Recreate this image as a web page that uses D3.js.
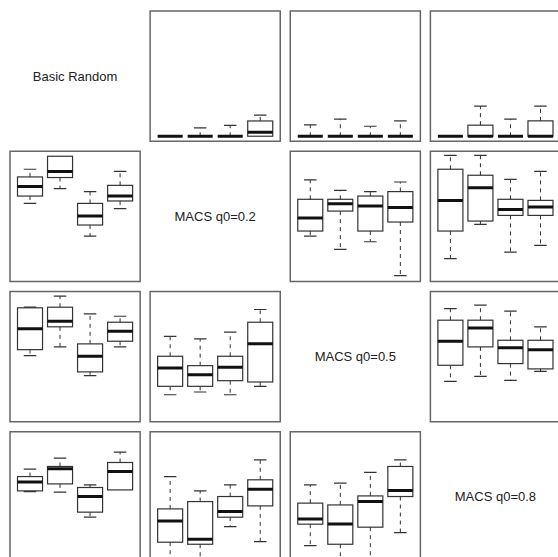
<!DOCTYPE html>
<html>
<head>
<meta charset="utf-8">
<script src="https://cdn.jsdelivr.net/npm/d3@7"></script>
<style>
  body { margin: 0; background: #fff; }
  svg { display: block; }
</style>
</head>
<body>
<div id="chart"></div>
<script>
// method names on the diagonal
const methods = ["Basic Random", "MACS q0=0.2", "MACS q0=0.5", "MACS q0=0.8"];
const groups = ["A", "B", "C", "D"];

// five number summaries [min, q1, median, q3, max], one per group, per (row, col) cell
const r0c1 = [[0, 0, 0, 0, 0], [0, 0, 0, 0, 7], [0, 0, 0, 0, 9], [0, 0, 3.3, 12.7, 17.5]];
const r0c2 = [[0, 0, 0, 0, 9.4], [0, 0, 0, 0, 14.2], [0, 0, 0, 0, 8.3], [0, 0, 0, 0, 12.8]];
const r0c3 = [[0, 0, 0, 0, 0], [0, 0, 0, 9.2, 25], [0, 0, 0, 0, 14.2], [0, 0, 0, 12.8, 25]];

const r1c0 = [[60.8, 66.9, 74.8, 82.8, 89.2], [73.1, 82.3, 87.3, 100, 100], [33.6, 42.8, 50.3, 60.8, 70.6], [56.4, 62.8, 67, 75.8, 87.5]];
const r1c2 = [[33.6, 37.8, 48.6, 64.2, 80.3], [22.5, 54.4, 60.6, 64.2, 71.7], [28.9, 37.8, 58.6, 66.9, 70.6], [0.8, 45.3, 57.3, 70.6, 78.6]];
const r1c3 = [[14.8, 37.8, 63.1, 89.2, 100.8], [43.3, 46.1, 73.9, 84.2, 100.8], [20.3, 50.8, 55.8, 64.2, 80.8], [25.8, 50.8, 57.8, 63.3, 87.5]];

const r2c0 = [[50.8, 55.8, 73.1, 90.6, 91.1], [58.1, 74.8, 79.4, 91.1, 100.3], [34.2, 37.3, 50.3, 60.6, 85.6], [58.1, 62.8, 71.1, 78.6, 83.6]];
const r2c1 = [[18.3, 25.3, 40.6, 50.3, 66.9], [20.6, 25.3, 35, 42.5, 64.8], [18.3, 30, 41.1, 50.3, 70.3], [25.3, 28.9, 60.8, 78.6, 89.2]];
const r2c3 = [[29.4, 42.8, 62.8, 80.3, 90], [33.6, 58.1, 73.9, 80.3, 92.8], [30.3, 44.2, 57.3, 63.6, 87.8], [37.8, 39.8, 55.8, 63.6, 74.8]];

const r3c0 = [[54.4, 55, 62.3, 66.9, 73.1], [53.9, 60.8, 73.3, 75.3, 82.3], [33.1, 37.3, 50.3, 57.8, 60], [55.8, 55.8, 71.1, 78.6, 87.3]];
const r3c1 = [[-2, 12.3, 30, 40, 66.9], [-3, 10.6, 14.8, 46.1, 55], [25.3, 33.1, 37.8, 50.3, 60], [12.8, 42.5, 56.4, 64.2, 80.8]];
const r3c2 = [[9.4, 27.3, 31.7, 44.8, 60], [-3, 10.6, 27.5, 43.3, 61.4], [-3, 24.8, 46.1, 50.8, 70.3], [20.3, 50.3, 55.3, 75.3, 80.8]];

const cellStats = {
  "0-1": r0c1, "0-2": r0c2, "0-3": r0c3,
  "1-0": r1c0, "1-2": r1c2, "1-3": r1c3,
  "2-0": r2c0, "2-1": r2c1, "2-3": r2c3,
  "3-0": r3c0, "3-1": r3c1, "3-2": r3c2
};

const width = 558, height = 557;

const svg = d3.select("#chart")
  .append("svg")
  .attr("width", width)
  .attr("height", height);

const idx = d3.range(methods.length);
const col = d3.scaleBand().domain(idx).range([10, 560.5]).paddingInner(10 / 140);
const row = d3.scaleBand().domain(idx).range([11, 562]).paddingInner(10 / 140);
const pw = col.bandwidth(), ph = row.bandwidth();

// inside a panel
const x = d3.scaleBand().domain(groups).range([5, pw - 5]).paddingInner(5 / 30).paddingOuter(2.5 / 30);
const y = d3.scaleLinear().domain([0, 100]).range([ph - 5, 5]);
const bw = x.bandwidth();

const cells = [];
idx.forEach(i => idx.forEach(j => cells.push({i, j})));

const cell = svg.selectAll("g.cell")
  .data(cells)
  .enter()
  .append("g")
  .attr("class", "cell")
  .attr("transform", d => "translate(" + col(d.j) + "," + row(d.i) + ")");

// diagonal: labels
cell.filter(d => d.i === d.j)
  .append("text")
  .attr("x", pw / 2)
  .attr("y", ph / 2)
  .attr("dy", "0.35em")
  .style("text-anchor", "middle")
  .style("font-family", "'Liberation Sans', Arial, sans-serif")
  .style("font-size", "13px")
  .style("fill", "#222")
  .text(d => methods[d.i]);

// off diagonal: boxplots
const panels = cell.filter(d => d.i !== d.j);

panels.append("clipPath")
  .attr("id", d => "clip" + d.i + d.j)
  .append("rect")
  .attr("width", pw)
  .attr("height", ph);

const inner = panels.append("g")
  .attr("clip-path", d => "url(#clip" + d.i + d.j + ")");

const boxes = inner.selectAll("g.box")
  .data(d => cellStats[d.i + "-" + d.j].map((s, k) => ({g: groups[k], s})))
  .enter()
  .append("g")
  .attr("class", "box")
  .attr("transform", d => "translate(" + (x(d.g) + bw / 2) + ",0)");

// whiskers
boxes.selectAll("line.whisker")
  .data(d => [[d.s[3], d.s[4]], [d.s[1], d.s[0]]])
  .enter()
  .append("line")
  .attr("x1", 0).attr("x2", 0)
  .attr("y1", d => y(d[0]))
  .attr("y2", d => y(d[1]))
  .attr("stroke", "#333")
  .attr("stroke-width", 1)
  .attr("stroke-dasharray", "4,4")
  .filter(d => d[0] === d[1]).remove();

// staples
boxes.selectAll("line.cap")
  .data(d => (d.s[4] > d.s[3] ? [d.s[4]] : []).concat(d.s[0] < d.s[1] ? [d.s[0]] : []))
  .enter()
  .append("line")
  .attr("x1", -bw / 4).attr("x2", bw / 4)
  .attr("y1", d => y(d)).attr("y2", d => y(d))
  .attr("stroke", "#333")
  .attr("stroke-width", 1.2);

boxes.append("rect")
  .attr("x", -bw / 2)
  .attr("width", bw)
  .attr("y", d => y(d.s[3]))
  .attr("height", d => y(d.s[1]) - y(d.s[3]))
  .attr("fill", "none")
  .attr("stroke", "#333")
  .attr("stroke-width", 1.2);

boxes.append("line")
  .attr("x1", -bw / 2).attr("x2", bw / 2)
  .attr("y1", d => y(d.s[2])).attr("y2", d => y(d.s[2]))
  .attr("stroke", "#111")
  .attr("stroke-width", 3);

panels.append("rect")
  .attr("width", pw)
  .attr("height", ph)
  .attr("fill", "none")
  .attr("stroke", "#666")
  .attr("stroke-width", 1.5);
</script>
</body>
</html>
